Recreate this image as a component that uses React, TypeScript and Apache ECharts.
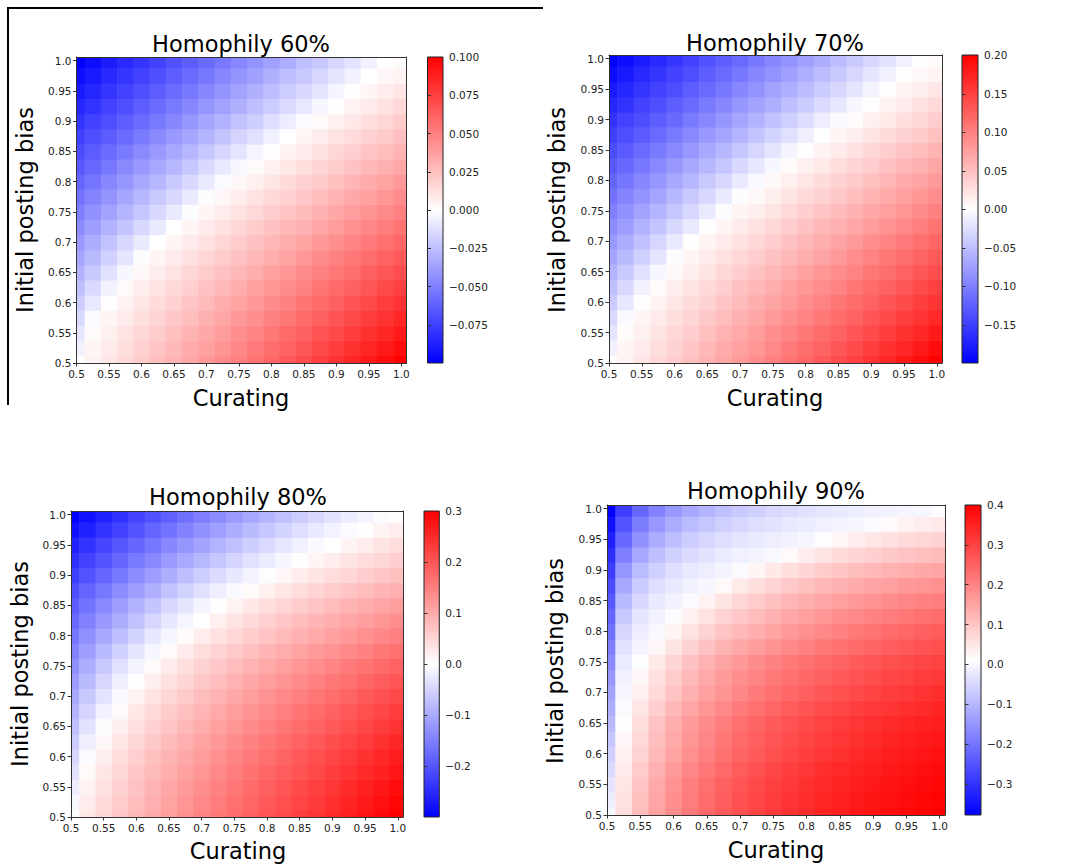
import React, { useEffect, useRef } from "react";
import * as echarts from "echarts";

// ---------- data ----------
const curating = [0.5, 0.525, 0.55, 0.575, 0.6, 0.625, 0.65, 0.675, 0.7, 0.725, 0.75, 0.775, 0.8, 0.825, 0.85, 0.875, 0.9, 0.925, 0.95, 0.975, 1.0];
const postingBias = [0.5, 0.525, 0.55, 0.575, 0.6, 0.625, 0.65, 0.675, 0.7, 0.725, 0.75, 0.775, 0.8, 0.825, 0.85, 0.875, 0.9, 0.925, 0.95, 0.975, 1.0];
const axisTickValues = [0.5, 0.55, 0.6, 0.65, 0.7, 0.75, 0.8, 0.85, 0.9, 0.95, 1.0];

const titles = ["Homophily 60%", "Homophily 70%", "Homophily 80%", "Homophily 90%"];

// rows: posting bias 0.5 -> 1.0 ; columns: curating 0.5 -> 1.0
const homophily60 = [
  [0, .005, .01, .015, .02, .025, .03, .035, .04, .045, .05, .055, .06, .065, .07, .075, .08, .085, .09, .095, .1],
  [-.005, .004, .008, .013, .018, .023, .028, .033, .037, .042, .047, .052, .057, .061, .066, .071, .076, .081, .085, .09, .095],
  [-.01, .002, .006, .011, .016, .02, .025, .03, .034, .039, .044, .048, .053, .058, .062, .067, .071, .076, .081, .085, .09],
  [-.015, -.002, .004, .008, .013, .017, .022, .026, .031, .035, .04, .044, .049, .053, .058, .062, .067, .071, .076, .08, .085],
  [-.02, -.009, .001, .005, .01, .014, .018, .023, .027, .032, .036, .04, .045, .049, .054, .058, .062, .067, .071, .076, .08],
  [-.025, -.015, -.005, .002, .007, .011, .015, .019, .024, .028, .032, .037, .041, .045, .049, .054, .058, .062, .066, .071, .075],
  [-.03, -.021, -.012, -.003, .003, .007, .011, .016, .02, .024, .028, .032, .037, .041, .045, .049, .053, .057, .062, .066, .07],
  [-.035, -.027, -.018, -.01, -.001, .004, .008, .012, .016, .02, .024, .028, .032, .036, .04, .045, .049, .053, .057, .061, .065],
  [-.04, -.032, -.024, -.016, -.008, 0, .004, .008, .012, .016, .02, .024, .028, .032, .036, .04, .044, .048, .052, .056, .06],
  [-.045, -.038, -.03, -.023, -.015, -.008, 0, .004, .008, .012, .016, .02, .024, .028, .031, .035, .039, .043, .047, .051, .055],
  [-.05, -.043, -.036, -.029, -.022, -.015, -.008, -.001, .004, .007, .011, .015, .019, .023, .027, .031, .035, .038, .042, .046, .05],
  [-.055, -.048, -.042, -.035, -.028, -.021, -.015, -.008, -.001, .003, .007, .011, .015, .018, .022, .026, .03, .034, .037, .041, .045],
  [-.06, -.054, -.047, -.041, -.034, -.028, -.021, -.015, -.008, -.002, .003, .006, .01, .014, .018, .021, .025, .029, .033, .036, .04],
  [-.065, -.059, -.053, -.046, -.04, -.034, -.028, -.022, -.015, -.009, -.003, .002, .006, .009, .013, .017, .02, .024, .028, .031, .035],
  [-.07, -.064, -.058, -.052, -.046, -.04, -.034, -.028, -.022, -.016, -.01, -.004, .001, .005, .008, .012, .016, .019, .023, .026, .03],
  [-.075, -.069, -.064, -.058, -.052, -.046, -.04, -.035, -.029, -.023, -.017, -.012, -.006, 0, .004, .007, .011, .014, .018, .021, .025],
  [-.08, -.074, -.069, -.063, -.058, -.052, -.047, -.041, -.035, -.03, -.024, -.019, -.013, -.007, -.002, .002, .006, .009, .013, .016, .02],
  [-.085, -.08, -.074, -.069, -.063, -.058, -.052, -.047, -.041, -.036, -.031, -.025, -.02, -.014, -.009, -.003, .001, .005, .008, .012, .015],
  [-.09, -.085, -.079, -.074, -.069, -.063, -.058, -.053, -.047, -.042, -.036, -.031, -.026, -.02, -.015, -.01, -.004, .001, .004, .007, .01],
  [-.095, -.09, -.084, -.079, -.074, -.069, -.063, -.058, -.053, -.047, -.042, -.037, -.031, -.026, -.021, -.016, -.01, -.005, 0, .003, .005],
  [-.0999, -.095, -.089, -.084, -.079, -.074, -.068, -.063, -.058, -.053, -.047, -.042, -.037, -.032, -.026, -.021, -.016, -.011, -.005, 0, .002],
];

const homophily70 = [
  [0, .01, .02, .03, .04, .05, .06, .07, .08, .09, .1, .11, .12, .13, .14, .15, .16, .17, .18, .19, .2],
  [-.01, .008, .016, .026, .036, .046, .056, .066, .074, .084, .094, .104, .114, .122, .132, .142, .152, .162, .17, .18, .19],
  [-.02, .004, .012, .022, .032, .04, .05, .06, .068, .078, .088, .096, .106, .116, .124, .134, .142, .152, .162, .17, .18],
  [-.03, -.004, .008, .016, .026, .034, .044, .052, .062, .07, .08, .088, .098, .106, .116, .124, .134, .142, .152, .16, .17],
  [-.04, -.018, .002, .01, .02, .028, .036, .046, .054, .064, .072, .08, .09, .098, .108, .116, .124, .134, .142, .152, .16],
  [-.05, -.03, -.01, .004, .014, .022, .03, .038, .048, .056, .064, .074, .082, .09, .098, .108, .116, .124, .132, .142, .15],
  [-.06, -.042, -.024, -.006, .006, .014, .022, .032, .04, .048, .056, .064, .074, .082, .09, .098, .106, .114, .124, .132, .14],
  [-.07, -.054, -.036, -.02, -.002, .008, .016, .024, .032, .04, .048, .056, .064, .072, .08, .09, .098, .106, .114, .122, .13],
  [-.08, -.064, -.048, -.032, -.016, 0, .008, .016, .024, .032, .04, .048, .056, .064, .072, .08, .088, .096, .104, .112, .12],
  [-.09, -.076, -.06, -.046, -.03, -.016, 0, .008, .016, .024, .032, .04, .048, .056, .062, .07, .078, .086, .094, .102, .11],
  [-.1, -.086, -.072, -.058, -.044, -.03, -.016, -.002, .008, .014, .022, .03, .038, .046, .054, .062, .07, .076, .084, .092, .1],
  [-.11, -.096, -.084, -.07, -.056, -.042, -.03, -.016, -.002, .006, .014, .022, .03, .036, .044, .052, .06, .068, .074, .082, .09],
  [-.12, -.108, -.094, -.082, -.068, -.056, -.042, -.03, -.016, -.004, .006, .012, .02, .028, .036, .042, .05, .058, .066, .072, .08],
  [-.13, -.118, -.106, -.092, -.08, -.068, -.056, -.044, -.03, -.018, -.006, .004, .012, .018, .026, .034, .04, .048, .056, .062, .07],
  [-.14, -.128, -.116, -.104, -.092, -.08, -.068, -.056, -.044, -.032, -.02, -.008, .002, .01, .016, .024, .032, .038, .046, .052, .06],
  [-.15, -.138, -.128, -.116, -.104, -.092, -.08, -.07, -.058, -.046, -.034, -.024, -.012, 0, .008, .014, .022, .028, .036, .042, .05],
  [-.16, -.148, -.138, -.126, -.116, -.104, -.094, -.082, -.07, -.06, -.048, -.038, -.026, -.014, -.004, .004, .012, .018, .026, .032, .04],
  [-.17, -.16, -.148, -.138, -.126, -.116, -.104, -.094, -.082, -.072, -.062, -.05, -.04, -.028, -.018, -.006, .002, .01, .016, .024, .03],
  [-.18, -.17, -.158, -.148, -.138, -.126, -.116, -.106, -.094, -.084, -.072, -.062, -.052, -.04, -.03, -.02, -.008, .002, .008, .014, .02],
  [-.19, -.18, -.168, -.158, -.148, -.138, -.126, -.116, -.106, -.094, -.084, -.074, -.062, -.052, -.042, -.032, -.02, -.01, 0, .006, .01],
  [-.1995, -.19, -.178, -.168, -.158, -.148, -.136, -.126, -.116, -.106, -.094, -.084, -.074, -.064, -.052, -.042, -.032, -.022, -.01, 0, .004],
];

const homophily80 = [
  [0, .027, .047, .066, .083, .099, .115, .13, .144, .158, .172, .186, .2, .212, .226, .238, .251, .263, .276, .288, .3],
  [-.009, .023, .043, .061, .078, .094, .11, .125, .139, .153, .167, .18, .194, .207, .219, .232, .245, .257, .269, .281, .293],
  [-.02, .016, .037, .055, .072, .089, .104, .119, .133, .147, .16, .174, .187, .2, .213, .225, .237, .249, .262, .273, .285],
  [-.032, .007, .03, .049, .066, .082, .097, .111, .125, .139, .153, .166, .179, .191, .204, .216, .228, .24, .252, .263, .275],
  [-.045, -.004, .021, .041, .058, .074, .089, .103, .117, .131, .144, .157, .17, .183, .195, .207, .219, .231, .242, .254, .265],
  [-.06, -.019, .01, .031, .048, .065, .08, .094, .108, .121, .135, .147, .16, .172, .184, .196, .208, .219, .231, .242, .253],
  [-.075, -.034, -.003, .02, .038, .055, .07, .084, .098, .111, .124, .137, .149, .161, .173, .184, .196, .207, .218, .229, .24],
  [-.087, -.049, -.016, .007, .028, .044, .06, .074, .088, .101, .114, .126, .138, .15, .162, .173, .185, .196, .207, .217, .228],
  [-.1, -.064, -.032, -.006, .015, .033, .049, .063, .077, .09, .103, .115, .127, .139, .15, .161, .172, .183, .194, .205, .215],
  [-.115, -.08, -.048, -.02, -.001, .02, .037, .051, .065, .078, .091, .103, .114, .126, .137, .148, .159, .169, .18, .19, .2],
  [-.13, -.096, -.064, -.036, -.013, .006, .024, .039, .053, .066, .078, .09, .102, .113, .124, .134, .145, .155, .165, .175, .185],
  [-.145, -.113, -.083, -.055, -.03, -.01, .007, .024, .039, .052, .064, .076, .087, .098, .109, .119, .129, .139, .149, .159, .168],
  [-.16, -.13, -.102, -.075, -.051, -.028, -.01, .005, .022, .036, .048, .06, .071, .082, .092, .102, .112, .122, .131, .141, .15],
  [-.175, -.147, -.12, -.095, -.071, -.048, -.028, -.011, .001, .019, .032, .044, .056, .066, .077, .087, .096, .106, .115, .124, .133],
  [-.19, -.164, -.138, -.114, -.09, -.069, -.048, -.03, -.013, -.001, .014, .027, .039, .05, .06, .07, .079, .089, .098, .106, .115],
  [-.207, -.182, -.158, -.135, -.113, -.092, -.071, -.052, -.035, -.019, -.006, .006, .019, .031, .041, .051, .061, .07, .078, .087, .095],
  [-.225, -.202, -.179, -.157, -.135, -.115, -.095, -.076, -.058, -.042, -.027, -.013, -.002, .01, .022, .032, .041, .05, .059, .067, .075],
  [-.242, -.22, -.199, -.178, -.157, -.138, -.118, -.1, -.083, -.065, -.05, -.035, -.022, -.01, -.001, .012, .022, .032, .041, .049, .057],
  [-.26, -.239, -.218, -.198, -.179, -.16, -.141, -.123, -.106, -.089, -.073, -.057, -.043, -.029, -.017, -.007, 0, .013, .023, .032, .04],
  [-.28, -.26, -.24, -.22, -.201, -.182, -.164, -.146, -.129, -.112, -.096, -.08, -.065, -.051, -.038, -.025, -.014, -.005, .003, .014, .022],
  [-.299, -.279, -.26, -.241, -.222, -.204, -.186, -.168, -.151, -.135, -.118, -.103, -.087, -.073, -.059, -.045, -.033, -.022, -.012, -.003, .003],
];

const homophily90 = [
  [0, .062, .112, .153, .187, .215, .24, .261, .28, .296, .311, .324, .336, .347, .356, .365, .373, .381, .388, .394, .4],
  [-.015, .057, .107, .148, .182, .211, .236, .257, .276, .292, .307, .32, .332, .342, .352, .361, .369, .376, .383, .389, .395],
  [-.03, .05, .101, .143, .177, .206, .231, .252, .271, .287, .302, .315, .327, .337, .347, .356, .364, .371, .378, .384, .39],
  [-.045, .042, .091, .131, .165, .194, .219, .24, .259, .276, .291, .304, .316, .328, .338, .347, .355, .363, .37, .377, .383],
  [-.06, .032, .079, .118, .151, .18, .205, .226, .246, .263, .278, .292, .305, .316, .327, .337, .345, .354, .361, .368, .375],
  [-.077, .024, .071, .11, .143, .172, .196, .218, .237, .255, .27, .284, .296, .307, .318, .327, .336, .344, .352, .359, .365],
  [-.095, .015, .062, .102, .135, .164, .188, .21, .229, .246, .261, .275, .287, .298, .308, .318, .327, .334, .342, .349, .355],
  [-.112, .004, .049, .086, .119, .147, .171, .193, .212, .229, .245, .259, .272, .283, .294, .304, .313, .321, .329, .336, .343],
  [-.13, -.003, .036, .071, .102, .13, .154, .175, .194, .212, .228, .242, .255, .267, .278, .288, .298, .307, .315, .323, .33],
  [-.147, -.009, .024, .06, .091, .118, .142, .163, .182, .199, .215, .229, .242, .254, .265, .275, .284, .293, .3, .308, .315],
  [-.165, -.019, .008, .045, .077, .104, .129, .15, .169, .186, .202, .216, .228, .24, .251, .261, .27, .278, .286, .293, .3],
  [-.185, -.033, -.005, .023, .053, .08, .104, .125, .144, .162, .177, .192, .205, .217, .228, .238, .248, .257, .265, .273, .28],
  [-.205, -.051, -.016, 0, .029, .055, .078, .099, .118, .136, .152, .166, .18, .193, .204, .215, .225, .235, .244, .252, .26],
  [-.225, -.072, -.029, -.01, .006, .032, .056, .078, .097, .114, .13, .145, .158, .17, .182, .192, .202, .211, .219, .227, .235],
  [-.245, -.095, -.046, -.022, -.008, .005, .031, .053, .073, .091, .107, .122, .135, .147, .158, .169, .178, .187, .195, .203, .21],
  [-.265, -.122, -.068, -.039, -.022, -.01, -.001, .021, .043, .062, .079, .094, .107, .119, .13, .14, .15, .158, .166, .173, .18],
  [-.285, -.151, -.093, -.06, -.039, -.024, -.014, -.005, .005, .027, .046, .062, .077, .09, .101, .111, .121, .129, .137, .144, .15],
  [-.307, -.184, -.123, -.086, -.061, -.044, -.031, -.02, -.012, -.006, 0, .021, .038, .053, .066, .077, .086, .095, .102, .109, .115],
  [-.33, -.218, -.155, -.115, -.087, -.067, -.051, -.039, -.029, -.021, -.014, -.008, -.003, .008, .025, .039, .05, .06, .068, .074, .08],
  [-.353, -.251, -.189, -.147, -.116, -.093, -.076, -.061, -.049, -.039, -.031, -.024, -.018, -.012, -.007, -.003, .004, .02, .031, .039, .045],
  [-.3775, -.284, -.222, -.179, -.146, -.121, -.101, -.085, -.071, -.06, -.05, -.042, -.034, -.028, -.022, -.017, -.012, -.008, -.004, -.001, .008],
];

const colorRanges = [
  [-0.0999, 0.1],
  [-0.1995, 0.2005],
  [-0.299, 0.3],
  [-0.3775, 0.4],
];
const colorbarTicks = [
  [-0.075, -0.05, -0.025, 0, 0.025, 0.05, 0.075, 0.1],
  [-0.15, -0.1, -0.05, 0, 0.05, 0.1, 0.15, 0.2],
  [-0.2, -0.1, 0, 0.1, 0.2, 0.3],
  [-0.3, -0.2, -0.1, 0, 0.1, 0.2, 0.3, 0.4],
];
const colorbarDecimals = [3, 2, 1, 1];
const panelValues = [homophily60, homophily70, homophily80, homophily90];

// ---------- layout ----------
const layout = [
  { plot: [76.5, 57, 330, 306], cbar: [427.5, 57, 15.5, 306], title: [241, 44], ylab: [24.5, 210], xlab: [241, 398] },
  { plot: [609, 55, 333, 308], cbar: [962, 55, 16, 308], title: [775, 42.5], ylab: [557, 210], xlab: [775, 398] },
  { plot: [71, 511, 332, 306], cbar: [424, 511, 15.3, 306], title: [238, 497], ylab: [20, 664], xlab: [238, 851] },
  { plot: [607, 505, 338, 310], cbar: [965, 505, 16, 310], title: [776, 490.5], ylab: [555, 661], xlab: [776, 850] },
];
const X_MAX = 1.008;
const Y_MAX = 1.006;
const FONT = "DejaVu Sans";
const BWR = ["#0000ff", "#ffffff", "#ff0000"];

const fmtAxis = (v: number) => (Math.abs(v - 1) < 1e-9 ? "1.0" : String(parseFloat(v.toFixed(2))));

function buildOption() {
  const grid: any[] = [];
  const xAxis: any[] = [];
  const yAxis: any[] = [];
  const series: any[] = [];
  const visualMap: any[] = [];
  const graphic: any[] = [];
  const hx = (curating[1] - curating[0]) / 2;
  const hy = (postingBias[1] - postingBias[0]) / 2;

  layout.forEach((L, i) => {
    const [pl, pt, pw, ph] = L.plot;
    const [cl, ct, cw, ch] = L.cbar;
    grid.push({ left: pl, top: pt, width: pw, height: ph, containLabel: false });
    grid.push({ left: cl, top: ct, width: cw, height: ch, containLabel: false });
    const gP = 2 * i;
    const gC = 2 * i + 1;
    const lineStyle = { color: "#333", width: 1 };
    xAxis.push({
      type: "value", gridIndex: gP, min: 0.5, max: X_MAX, position: "bottom", z: 10,
      splitLine: { show: false },
      axisLine: { show: true, onZero: false, lineStyle },
      axisTick: { show: true, length: 3.5, customValues: axisTickValues, lineStyle },
      axisLabel: { show: true, customValues: axisTickValues, formatter: fmtAxis, fontSize: 10.5, fontFamily: FONT, color: "#222", margin: 5 },
    });
    xAxis.push({
      type: "value", gridIndex: gP, min: 0.5, max: X_MAX, position: "top", z: 10,
      splitLine: { show: false }, axisTick: { show: false }, axisLabel: { show: false },
      axisLine: { show: true, onZero: false, lineStyle },
    });
    xAxis.push({ type: "value", gridIndex: gC, min: 0, max: 1, show: false });
    yAxis.push({
      type: "value", gridIndex: gP, min: 0.5, max: Y_MAX, position: "left", z: 10,
      splitLine: { show: false },
      axisLine: { show: true, onZero: false, lineStyle },
      axisTick: { show: true, length: 3.5, customValues: axisTickValues, lineStyle },
      axisLabel: { show: true, customValues: axisTickValues, formatter: fmtAxis, fontSize: 10.5, fontFamily: FONT, color: "#222", margin: 5 },
    });
    yAxis.push({
      type: "value", gridIndex: gP, min: 0.5, max: Y_MAX, position: "right", z: 10,
      splitLine: { show: false }, axisTick: { show: false }, axisLabel: { show: false },
      axisLine: { show: true, onZero: false, lineStyle },
    });
    const dec = colorbarDecimals[i];
    yAxis.push({
      type: "value", gridIndex: gC, min: colorRanges[i][0], max: colorRanges[i][1], position: "right", z: 10,
      splitLine: { show: false },
      axisLine: { show: false },
      axisTick: { show: true, length: 3.5, customValues: colorbarTicks[i], lineStyle },
      axisLabel: {
        show: true, customValues: colorbarTicks[i], fontSize: 10.5, fontFamily: FONT, color: "#222", margin: 6,
        formatter: (v: number) => (v < -1e-12 ? "\u2212" + Math.abs(v).toFixed(dec) : Math.abs(v).toFixed(dec)),
      },
    });

    const data: number[][] = [];
    postingBias.forEach((y, r) => {
      curating.forEach((x, c) => {
        const v = panelValues[i][r] ? panelValues[i][r][c] : undefined;
        if (typeof v === "number") data.push([x, y, v]);
      });
    });
    series.push({
      type: "custom",
      xAxisIndex: 3 * i,
      yAxisIndex: 3 * i,
      silent: true,
      z: 2,
      data,
      encode: { x: 0, y: 1 },
      renderItem: (params: any, api: any) => {
        const x = api.value(0);
        const y = api.value(1);
        const p0 = api.coord([x - hx, y + hy]);
        const p1 = api.coord([x + hx, y - hy]);
        const cs = params.coordSys;
        const rect = echarts.graphic.clipRectByRect(
          { x: p0[0], y: p0[1], width: p1[0] - p0[0] + 0.6, height: p1[1] - p0[1] + 0.6 },
          { x: cs.x, y: cs.y, width: cs.width, height: cs.height }
        );
        if (!rect) return null;
        return { type: "rect", shape: rect, style: { fill: api.visual("color") } };
      },
    });
    series.push({
      type: "custom",
      xAxisIndex: 3 * i + 2,
      yAxisIndex: 3 * i + 2,
      silent: true,
      z: 2,
      data: [[colorRanges[i][0], colorRanges[i][1]]],
      encode: { y: [0, 1] },
      renderItem: (params: any, api: any) => {
        const lo = api.value(0);
        const hi = api.value(1);
        const p0 = api.coord([0, hi]);
        const p1 = api.coord([1, lo]);
        return {
          type: "rect",
          shape: { x: p0[0], y: p0[1], width: p1[0] - p0[0], height: p1[1] - p0[1] },
          style: {
            fill: new echarts.graphic.LinearGradient(0, 0, 0, 1, [
              { offset: 0, color: BWR[2] },
              { offset: 0.5, color: BWR[1] },
              { offset: 1, color: BWR[0] },
            ]),
            stroke: "#222",
            lineWidth: 1,
          },
        };
      },
    });
    visualMap.push({
      type: "continuous", show: false, seriesIndex: 2 * i, dimension: 2,
      min: colorRanges[i][0], max: colorRanges[i][1], inRange: { color: BWR },
    });

    graphic.push({
      type: "text", x: L.title[0], y: L.title[1], silent: true,
      style: { text: titles[i], fontSize: 22.5, fontFamily: FONT, fill: "#000", align: "center", verticalAlign: "middle" },
    });
    graphic.push({
      type: "text", x: L.xlab[0], y: L.xlab[1], silent: true,
      style: { text: "Curating", fontSize: 22.5, fontFamily: FONT, fill: "#000", align: "center", verticalAlign: "middle" },
    });
    graphic.push({
      type: "text", x: L.ylab[0], y: L.ylab[1], rotation: Math.PI / 2, silent: true,
      style: { text: "Initial posting bias", fontSize: 22.5, fontFamily: FONT, fill: "#000", align: "center", verticalAlign: "middle" },
    });
  });

  graphic.push({ type: "line", silent: true, shape: { x1: 7, y1: 8, x2: 543, y2: 8 }, style: { stroke: "#000", lineWidth: 2 } });
  graphic.push({ type: "line", silent: true, shape: { x1: 8, y1: 7, x2: 8, y2: 405 }, style: { stroke: "#000", lineWidth: 2 } });

  return {
    animation: false,
    backgroundColor: "#ffffff",
    grid,
    xAxis,
    yAxis,
    visualMap,
    series,
    graphic,
  };
}

export default function App() {
  const ref = useRef<HTMLDivElement>(null);
  useEffect(() => {
    if (!ref.current) return;
    const chart = echarts.init(ref.current, null, { renderer: "svg" });
    chart.setOption(buildOption() as any);
    return () => chart.dispose();
  }, []);
  return (
    <div
      ref={ref}
      style={{ position: "absolute", left: 0, top: 0, width: 1065, height: 865, background: "#fff" }}
    />
  );
}
